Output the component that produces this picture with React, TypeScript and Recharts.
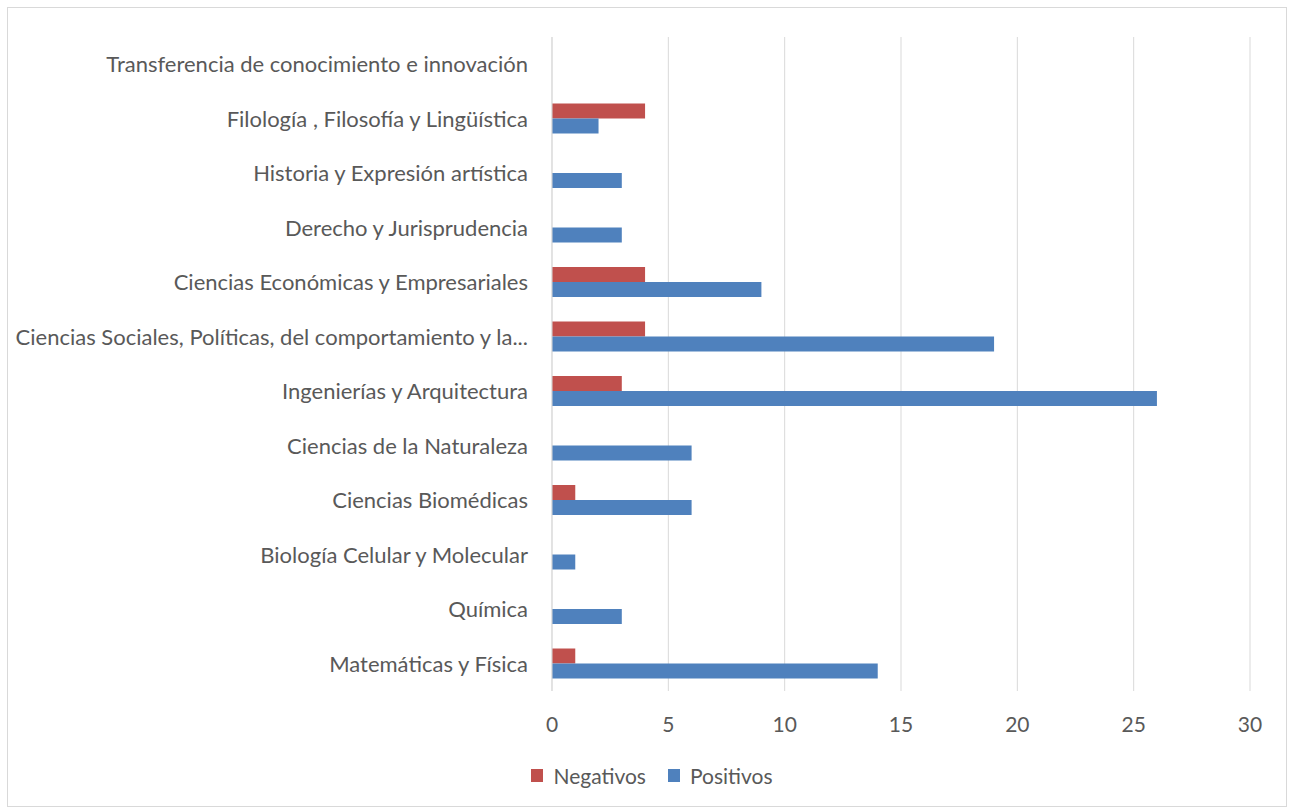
import React from 'react';
import { BarChart, Bar, XAxis, YAxis, CartesianGrid, Legend } from 'recharts';

// Areas, top to bottom as they appear in the chart
const areas = [
  'Transferencia de conocimiento e innovación',
  'Filología , Filosofía y Lingüística',
  'Historia y Expresión artística',
  'Derecho y Jurisprudencia',
  'Ciencias Económicas y Empresariales',
  'Ciencias Sociales, Políticas, del comportamiento y la...',
  'Ingenierías y Arquitectura',
  'Ciencias de la Naturaleza',
  'Ciencias Biomédicas',
  'Biología Celular y Molecular',
  'Química',
  'Matemáticas y Física',
];

const negativos = [0, 4, 0, 0, 4, 4, 3, 0, 1, 0, 0, 1];
const positivos = [0, 2, 3, 3, 9, 19, 26, 6, 6, 1, 3, 14];

const xTicks = [0, 5, 10, 15, 20, 25, 30];

const data = areas.map((area, i) => ({
  area,
  Negativos: negativos[i],
  Positivos: positivos[i],
}));

const FONT = "Lato, 'Open Sans', sans-serif";
const TEXT = '#595959';

// simple legend so the spacing can match the original
const renderLegend = (props: any) => {
  const { payload = [] } = props;
  return (
    <div style={{ display: 'flex', justifyContent: 'center', gap: 22, fontSize: 21, color: TEXT }}>
      {payload.map((entry: any) => (
        <div key={entry.value} style={{ display: 'flex', alignItems: 'center', gap: 10 }}>
          <span style={{ width: 12, height: 13, background: entry.color, display: 'inline-block' }} />
          <span>{entry.value}</span>
        </div>
      ))}
    </div>
  );
};

const App: React.FC = () => {
  return (
    <div style={{ position: 'relative', width: 1290, height: 810, background: '#fff', fontFamily: FONT }}>
      <style>{'body{margin:0}'}</style>
      <div
        style={{
          position: 'absolute',
          left: 7,
          top: 7,
          width: 1280,
          height: 800,
          border: '1px solid #d9d9d9',
          boxSizing: 'border-box',
        }}
      />
      <BarChart
        width={1290}
        height={810}
        layout="vertical"
        data={data}
        margin={{ top: 37, right: 40, left: 0, bottom: 34 }}
        barSize={15}
        barGap={0}
      >
        <CartesianGrid horizontal={false} stroke="#d9d9d9" />
        <XAxis
          type="number"
          domain={[0, 30]}
          ticks={xTicks}
          axisLine={false}
          tickLine={false}
          tickMargin={20}
          height={60}
          tick={{ fill: TEXT, fontSize: 21, fontFamily: FONT }}
        />
        <YAxis
          type="category"
          dataKey="area"
          width={552}
          axisLine={{ stroke: '#d9d9d9' }}
          tickLine={false}
          tickSize={0}
          tickMargin={24}
          interval={0}
          tick={{ fill: TEXT, fontSize: 22, fontFamily: FONT }}
        />
        <Legend
          verticalAlign="bottom"
          align="center"
          content={renderLegend}
          wrapperStyle={{ bottom: 22, paddingLeft: 27, fontFamily: FONT }}
        />
        <Bar dataKey="Negativos" fill="#C0504D" isAnimationActive={false} />
        <Bar dataKey="Positivos" fill="#4F81BD" isAnimationActive={false} />
      </BarChart>
    </div>
  );
};

export default App;
